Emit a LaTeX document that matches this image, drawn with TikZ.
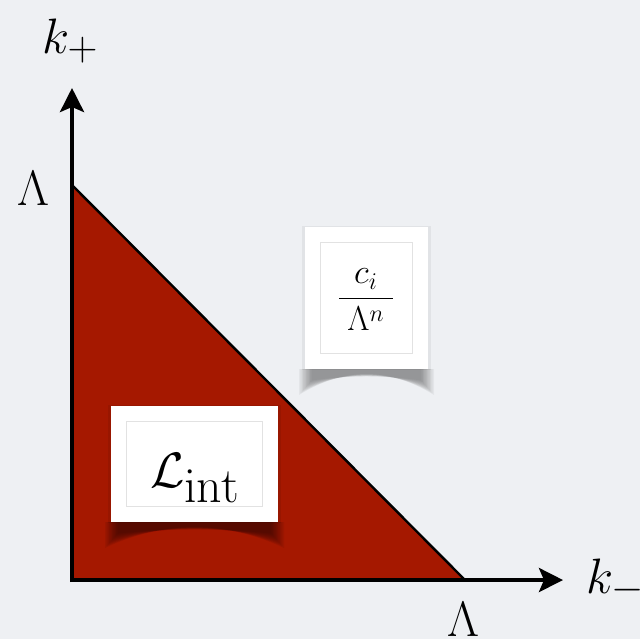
\documentclass[tikz,border=0pt]{standalone}
\usepackage{amsmath}
\usetikzlibrary{arrows.meta}
\definecolor{bg}{RGB}{238,240,243}
\definecolor{tri}{RGB}{165,24,0}
\definecolor{frame}{RGB}{226,226,226}
\tikzset{
  axisline/.style={line width=2pt,-{Stealth[length=12pt,width=12pt,inset=2.5pt]}},
  edge/.style={line width=1.2pt},
  lbl/.style={inner sep=0pt,font=\fontsize{28}{34}\selectfont},
  card/.style={fill=white,draw=none,inner sep=0pt},
  innerframe/.style={draw=frame,line width=0.5pt},
}
\newcommand\curlshadow[4]{% x1, x2, ybottom (px), opacity per layer
  \foreach \i in {0,1,...,9}{
    \pgfmathsetmacro\xa{#1-6+\i*1.4}
    \pgfmathsetmacro\xb{#2+6-\i*1.4}
    \pgfmathsetmacro\yc{#3+26-\i*1.6}
    \pgfmathsetmacro\yk{#3-2+\i*0.9}
    \fill[black,opacity=#4]
      (\xa,#3) -- (\xa,\yc)
      .. controls ({#1+(#2-#1)*0.32},\yk) and ({#2-(#2-#1)*0.32},\yk) ..
      (\xb,\yc) -- (\xb,#3) -- cycle;
  }
}
\begin{document}
\begin{tikzpicture}[x=0.5pt,y=-0.5pt]
  \useasboundingbox (0,0) rectangle (640,639);
  \fill[bg] (0,0) rectangle (640,639);
  % triangle region
  \coordinate (O) at (72,580);
  \coordinate (A) at (72,185);
  \coordinate (B) at (465,580);
  \fill[tri] (O) -- (A) -- (B) -- cycle;
  \draw[edge] (A) -- (B);
  % axes
  \coordinate (ytip) at (72,88);
  \coordinate (xtip) at (563,580);
  \coordinate (ystart) at (72,582);
  \coordinate (xstart) at (71,580);
  \draw[axisline] (ystart) -- (ytip);
  \draw[axisline] (xstart) -- (xtip);
  % axis labels
  \node[lbl,anchor=base west] (kp) at (42,53) {$k_+$};
  \node[lbl,anchor=base west] (km) at (586,593) {$k_-$};
  \node[lbl,anchor=base] (lamy) at (33,205) {$\Lambda$};
  \node[lbl,anchor=base] (lamx) at (463,636) {$\Lambda$};
  % coupling card
  \curlshadow{305}{428}{369}{0.045}
  \fill[black,opacity=0.05] (302,226) rectangle (431,370);
  \node[card,minimum width=61.5pt,minimum height=71pt] (cbox) at (366.5,298) {};
  \draw[innerframe] ([shift={(8pt,-8pt)}]cbox.north west) rectangle ([shift={(-8pt,8pt)}]cbox.south east);
  \node[inner sep=0pt,font=\fontsize{18}{22}\selectfont] (frac) at (366,300)
    {$\displaystyle\frac{c_i}{\hspace{4pt}\Lambda^n\hspace{4pt}}$};
  % Lagrangian card
  \curlshadow{111}{278}{522}{0.06}
  \fill[black,opacity=0.08] (108,405) rectangle (281,523);
  \node[card,minimum width=83.5pt,minimum height=58pt] (lbox) at (194.5,464) {};
  \draw[innerframe] ([shift={(8pt,-8pt)}]lbox.north west) rectangle ([shift={(-8pt,8pt)}]lbox.south east);
  \node[inner sep=0pt,font=\fontsize{36}{42}\selectfont,anchor=base] (lint) at (195,487)
    {$\mathcal{L}_{\mathrm{int}}$};
\end{tikzpicture}
\end{document}
